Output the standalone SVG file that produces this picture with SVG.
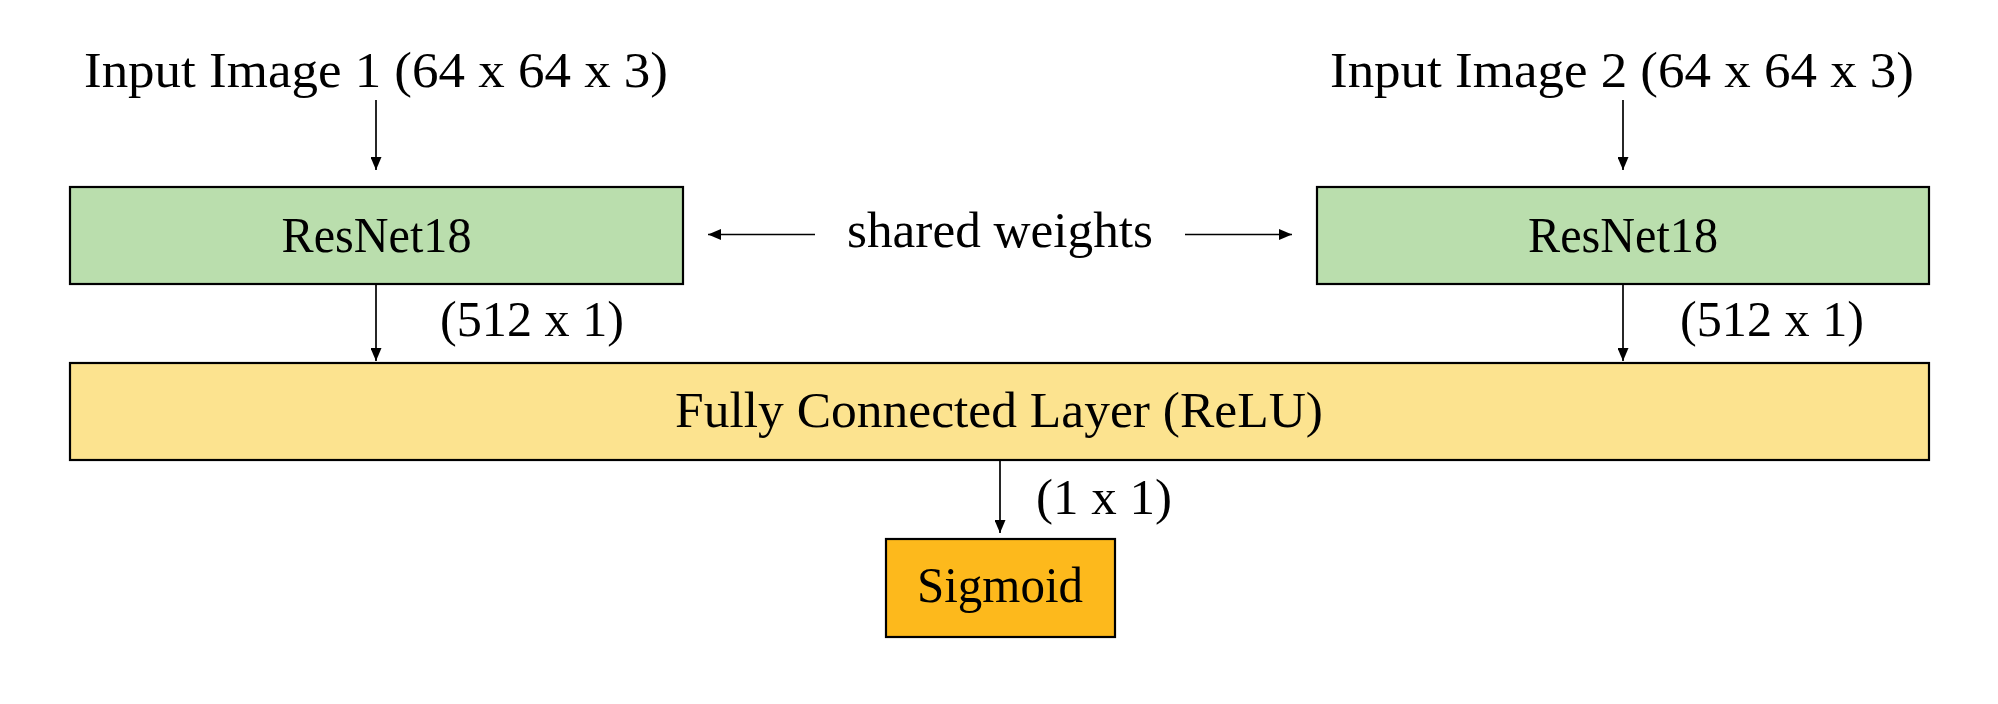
<svg xmlns="http://www.w3.org/2000/svg" width="1998" height="704" viewBox="0 0 1998 704">
<style>
text{font-family:"Liberation Serif","DejaVu Serif",serif;font-size:51px;fill:#000}
.box{stroke:#000;stroke-width:2.2}
.green{fill:#BADEAD}
.yellow{fill:#FCE38F}
.orange{fill:#FDB91C}
.conn line{stroke:#000;stroke-width:1.7;fill:none}
</style>
<defs>
<marker id="ah" viewBox="0 0 13 11" refX="13" refY="5.5" markerWidth="13" markerHeight="11" markerUnits="userSpaceOnUse" orient="auto">
<path d="M0,0 L13,5.5 L0,11 z" fill="#000"/>
</marker>
</defs>
<rect width="1998" height="704" fill="#fff"/>
<g id="input1"><text x="376" y="87" text-anchor="middle" textLength="584" lengthAdjust="spacingAndGlyphs">Input Image 1 (64 x 64 x 3)</text></g>
<g id="input2"><text x="1622" y="87" text-anchor="middle" textLength="584" lengthAdjust="spacingAndGlyphs">Input Image 2 (64 x 64 x 3)</text></g>
<g id="resnet1"><rect class="box green" x="70" y="187" width="613" height="97"/><text x="376.5" y="252" text-anchor="middle" textLength="190" lengthAdjust="spacingAndGlyphs">ResNet18</text></g>
<g id="resnet2"><rect class="box green" x="1317" y="187" width="612" height="97"/><text x="1623" y="252" text-anchor="middle" textLength="190" lengthAdjust="spacingAndGlyphs">ResNet18</text></g>
<g id="shared"><text x="1000" y="247" text-anchor="middle" textLength="306" lengthAdjust="spacingAndGlyphs">shared weights</text></g>
<g id="fc"><rect class="box yellow" x="70" y="363" width="1859" height="97"/><text x="999" y="427" text-anchor="middle" textLength="648" lengthAdjust="spacingAndGlyphs">Fully Connected Layer (ReLU)</text></g>
<g id="sigmoid"><rect class="box orange" x="886" y="539" width="229" height="98"/><text x="1000" y="602" text-anchor="middle" textLength="166" lengthAdjust="spacingAndGlyphs">Sigmoid</text></g>
<g id="labels">
<text x="440" y="336" textLength="184" lengthAdjust="spacingAndGlyphs">(512 x 1)</text>
<text x="1680" y="336" textLength="184" lengthAdjust="spacingAndGlyphs">(512 x 1)</text>
<text x="1036" y="514" textLength="136" lengthAdjust="spacingAndGlyphs">(1 x 1)</text>
</g>
<g class="conn" id="connectors">
<line x1="376" y1="100" x2="376" y2="170" marker-end="url(#ah)"/>
<line x1="1623" y1="100" x2="1623" y2="170" marker-end="url(#ah)"/>
<line x1="815" y1="234.5" x2="708" y2="234.5" marker-end="url(#ah)"/>
<line x1="1185" y1="234.5" x2="1292" y2="234.5" marker-end="url(#ah)"/>
<line x1="376" y1="285" x2="376" y2="361" marker-end="url(#ah)"/>
<line x1="1623" y1="285" x2="1623" y2="361" marker-end="url(#ah)"/>
<line x1="1000" y1="461" x2="1000" y2="533" marker-end="url(#ah)"/>
</g>
</svg>
